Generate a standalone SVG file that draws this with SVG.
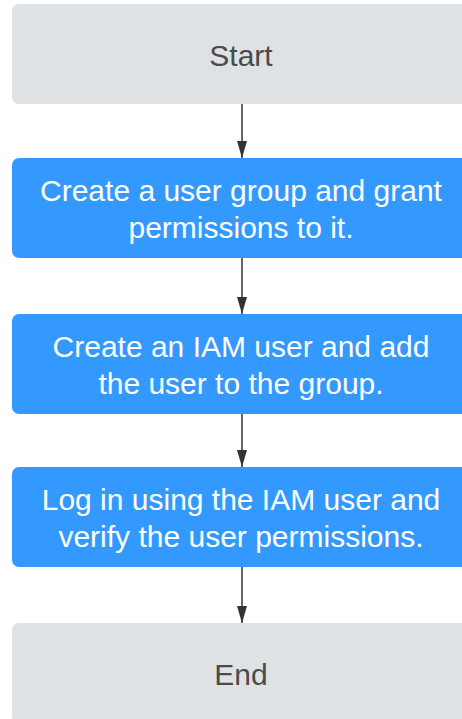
<svg xmlns="http://www.w3.org/2000/svg" width="462" height="719" viewBox="0 0 462 719">
  <style>
    .term rect { fill: #dfe2e5; }
    .step rect { fill: #3399ff; }
    text { font-family: "Liberation Sans", Arial, sans-serif; font-size: 30px; text-anchor: middle; }
    .term text { fill: #4a4a4a; }
    .step text { fill: #ffffff; }
    .link { stroke: #333333; stroke-width: 1.5; fill: none; marker-end: url(#arrow); }
  </style>
  <defs>
    <!-- solid arrowhead, drawn pointing along +x and rotated to the line direction -->
    <marker id="arrow" markerWidth="17" markerHeight="10" refX="17" refY="5" orient="auto" markerUnits="userSpaceOnUse" viewBox="0 0 17 10">
      <path d="M0,0 L17,5 L0,10 Z" fill="#333333" />
    </marker>
  </defs>

  <g id="connectors">
    <line class="link" x1="242" y1="104" x2="242" y2="158" />
    <line class="link" x1="242" y1="258" x2="242" y2="314" />
    <line class="link" x1="242" y1="414" x2="242" y2="467" />
    <line class="link" x1="242" y1="567" x2="242" y2="623" />
  </g>

  <g id="start" class="term">
    <rect x="12" y="4" width="460" height="100" rx="7" />
    <text x="241" y="66">Start</text>
  </g>

  <g id="create-group" class="step">
    <rect x="12" y="158" width="460" height="100" rx="7" />
    <text x="241" y="201">Create a user group and grant</text>
    <text x="241" y="238">permissions to it.</text>
  </g>

  <g id="create-user" class="step">
    <rect x="12" y="314" width="460" height="100" rx="7" />
    <text x="241" y="357">Create an IAM user and add</text>
    <text x="241" y="394">the user to the group.</text>
  </g>

  <g id="verify" class="step">
    <rect x="12" y="467" width="460" height="100" rx="7" />
    <text x="241" y="510">Log in using the IAM user and</text>
    <text x="241" y="547">verify the user permissions.</text>
  </g>

  <g id="end" class="term">
    <rect x="12" y="623" width="460" height="100" rx="7" />
    <text x="241" y="685">End</text>
  </g>
</svg>
